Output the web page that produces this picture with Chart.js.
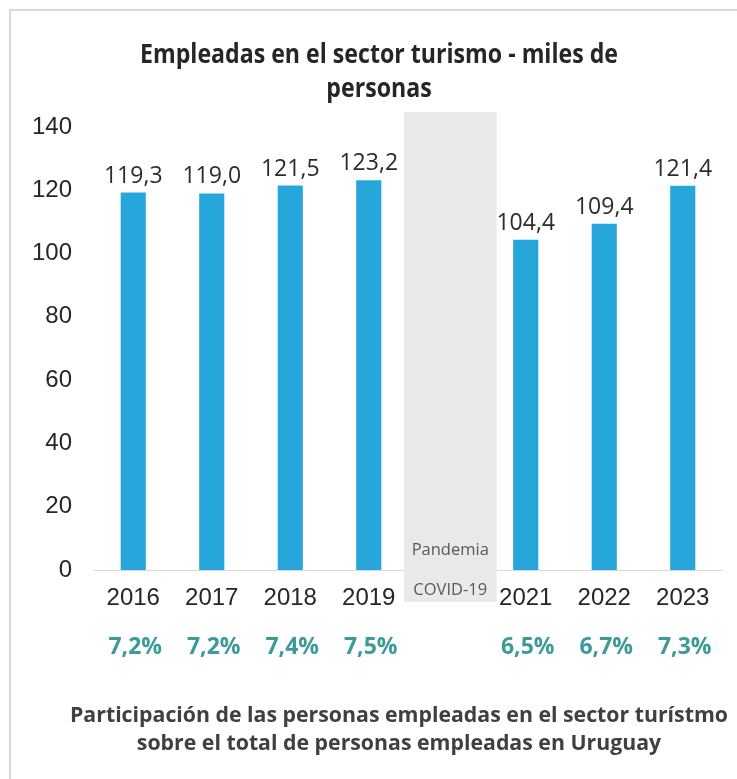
<!DOCTYPE html>
<html><head><meta charset="utf-8">
<script src="https://cdn.jsdelivr.net/npm/chart.js@4"></script>
<style>
html,body{margin:0;padding:0;background:#fff;}
#wrap{position:relative;width:737px;height:779px;overflow:hidden;}
#frame{position:absolute;left:9px;top:9px;width:740px;height:780px;border-left:2px solid #d9d9d9;border-top:2px solid #d9d9d9;}
canvas{position:absolute;left:0;top:0;}
</style></head><body>
<div id="wrap"><div id="frame"></div><canvas id="c" width="737" height="779"></canvas></div>
<script>
const categories = ['2016','2017','2018','2019','2020','2021','2022','2023'];
const employed = [119.3, 119.0, 121.5, 123.2, null, 104.4, 109.4, 121.4];
const sharePct = [7.2, 7.2, 7.4, 7.5, null, 6.5, 6.7, 7.3];
const yTicks = [0, 20, 40, 60, 80, 100, 120, 140];
const pandemicCategory = '2020';
const pandemicText = ['Pandemia', 'COVID-19'];
const titleLines = ['Empleadas en el sector turismo - miles de', 'personas'];
const captionLines = ['Participación de las personas empleadas en el sector turístmo', 'sobre el total de personas empleadas en Uruguay'];

const fmt = v => v.toFixed(1).replace('.', ',');
const pandemicIndex = categories.indexOf(pandemicCategory);

// draw text horizontally condensed by a factor
function condensedText(ctx, text, cx, y, k) {
  ctx.save();
  ctx.translate(cx, y);
  ctx.scale(k, 1);
  ctx.fillText(text, 0, 0);
  ctx.restore();
}

const extras = {
  id: 'extras',
  beforeDatasetsDraw(chart) {
    const ctx = chart.ctx, x = chart.scales.x, y = chart.scales.y, ca = chart.chartArea;
    const catW = x.width / categories.length;
    const cx = x.getPixelForValue(pandemicIndex) + 3;
    const bw = catW * 1.18;
    const top = y.getPixelForValue(yTicks[yTicks.length - 1]) - 15;
    const bottom = ca.bottom + 32;
    ctx.save();
    ctx.fillStyle = '#e8e9eb';
    ctx.fillRect(cx - bw / 2, top, bw, bottom - top);
    ctx.fillStyle = '#595959';
    ctx.font = '16.5px "Open Sans"';
    ctx.textAlign = 'center';
    ctx.textBaseline = 'middle';
    ctx.fillText(pandemicText[0], cx, ca.bottom - 20);
    ctx.fillText(pandemicText[1], cx, ca.bottom + 20);
    ctx.restore();
  },
  afterDatasetsDraw(chart) {
    const ctx = chart.ctx, x = chart.scales.x, y = chart.scales.y, ca = chart.chartArea;
    ctx.save();
    ctx.textAlign = 'center';
    // value labels
    ctx.fillStyle = '#2b2b2b';
    ctx.font = '23px "Open Sans"';
    ctx.textBaseline = 'alphabetic';
    employed.forEach((v, i) => {
      if (v == null) return;
      ctx.fillText(fmt(v), x.getPixelForValue(i), y.getPixelForValue(v) - 10);
    });
    // share labels
    ctx.fillStyle = '#3d9a9b';
    ctx.font = 'bold 23px "Open Sans"';
    ctx.textBaseline = 'middle';
    sharePct.forEach((v, i) => {
      if (v == null) return;
      ctx.fillText(fmt(v) + '%', x.getPixelForValue(i) + 2, ca.bottom + 77);
    });
    // title
    ctx.fillStyle = '#262626';
    ctx.font = 'bold 26px "Open Sans"';
    ctx.textBaseline = 'alphabetic';
    const kT = 478 / ctx.measureText(titleLines[0]).width;
    condensedText(ctx, titleLines[0], 379, 63, kT);
    condensedText(ctx, titleLines[1], 379, 97, kT);
    // caption
    ctx.fillStyle = '#404040';
    ctx.font = 'bold 22px "Open Sans"';
    const kC = 658 / ctx.measureText(captionLines[0]).width;
    condensedText(ctx, captionLines[0], 399, 722, kC);
    condensedText(ctx, captionLines[1], 399, 750, kC);
    ctx.restore();
  }
};

new Chart(document.getElementById('c'), {
  type: 'bar',
  data: {
    labels: categories,
    datasets: [{
      data: employed,
      backgroundColor: '#27a6dc',
      borderWidth: 0,
      categoryPercentage: 1,
      barPercentage: 0.32
    }]
  },
  options: {
    responsive: false,
    animation: false,
    layout: { padding: { top: 127, left: 10, right: 15, bottom: 159 } },
    plugins: { legend: { display: false }, tooltip: { enabled: false }, title: { display: false } },
    scales: {
      x: {
        afterFit: s => { s.height = 50; },
        grid: { display: false, drawTicks: false },
        border: { display: true, color: '#d9d9d9', width: 1 },
        ticks: {
          padding: 14,
          color: '#262626',
          font: { family: '"Liberation Sans", Arial, sans-serif', size: 24 },
          callback: function (v, i) { return categories[i] === pandemicCategory ? '' : categories[i]; }
        }
      },
      y: {
        min: yTicks[0], max: yTicks[yTicks.length - 1],
        afterFit: s => { s.width = 84; },
        afterBuildTicks: s => { s.ticks = yTicks.map(v => ({ value: v })); },
        grid: { display: false, drawTicks: false },
        border: { display: false },
        ticks: {
          padding: 22,
          color: '#262626',
          font: { family: '"Liberation Sans", Arial, sans-serif', size: 24 }
        }
      }
    }
  },
  plugins: [extras]
});
</script>
</body></html>
